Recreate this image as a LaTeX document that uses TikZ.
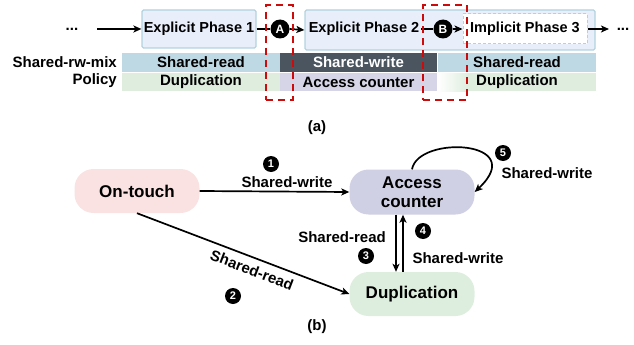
\documentclass[tikz,border=0pt]{standalone}
\usepackage{fontspec}
\setmainfont{Liberation Sans}
\usetikzlibrary{arrows.meta}
\definecolor{phasefill}{RGB}{232,239,250}
\definecolor{phaseborder}{RGB}{178,210,222}
\definecolor{srfill}{RGB}{191,217,228}
\definecolor{dupfill}{RGB}{223,237,223}
\definecolor{swfill}{RGB}{74,85,95}
\definecolor{acfill}{RGB}{213,213,231}
\definecolor{otfill}{RGB}{250,226,226}
\definecolor{acnfill}{RGB}{208,208,228}
\definecolor{dupnfill}{RGB}{222,238,222}
\definecolor{redd}{RGB}{204,12,12}
\begin{document}
\begin{tikzpicture}[x=1pt,y=-1pt,
  lbl/.style={font=\bfseries\fontsize{15}{15}\selectfont, inner sep=0pt},
  phlbl/.style={font=\bfseries\fontsize{14.5}{15}\selectfont, inner sep=0pt},
  phasebox/.style={draw=phaseborder, fill=phasefill, line width=1.2pt, rounded corners=1.5pt},
  bar/.style={minimum width=158pt, inner sep=0pt, font=\bfseries\fontsize{15}{15}\selectfont},
  num/.style={circle, fill=black, text=white, inner sep=0pt, minimum size=16pt, font=\bfseries\fontsize{11}{11}\selectfont},
  bignum/.style={circle, fill=black, text=white, inner sep=0pt, minimum size=19pt, font=\bfseries\fontsize{12}{12}\selectfont},
  state/.style={rounded corners=19pt, minimum width=125pt, minimum height=44pt, inner sep=0pt, font=\bfseries\fontsize{17}{19}\selectfont, align=center},
  arr/.style={-{Stealth[length=8pt,width=7pt,inset=2pt]}, line width=1.7pt},
  ln/.style={line width=1.7pt},
  reddash/.style={draw=redd, line width=2.2pt, dash pattern=on 7pt off 5pt, inner sep=0pt}
]
\useasboundingbox (0,0) rectangle (634,345);

% ---------- (a) ----------
\node[lbl] (d1) at (72,29) {...};
\coordinate (s0) at (97,29);
\node[phasebox, phlbl, minimum width=114pt, minimum height=38pt] (p1) at (199,29) {Explicit Phase 1};
\node[phasebox, minimum width=290pt, minimum height=40pt, inner sep=0pt] (p2box) at (450,30) {};
\node[phlbl] (p2) at (364,29) {Explicit Phase 2};
\node[draw=phaseborder, fill=white, line width=1pt, dash pattern=on 3pt off 2pt, phlbl, minimum width=124pt, minimum height=30pt] (p3) at (525,29) {Implicit Phase 3};
\node[bignum] (cA) at (280,29) {A};
\node[bignum] (cB) at (443,29) {B};
\coordinate (e0) at (609,29);
\node[lbl] (d2) at (623,29) {...};

\draw[arr] (s0) -- (p1.west);
\draw[ln] (p1.east) -- (cA.west);
\draw[arr] (cA.east) -- (p2box.west);
\draw[ln] ([xshift=2pt]p2.east) -- (cB.west);
\draw[arr] (cB.east) -- (p3.west);
\draw[arr] (p3.east) -- (e0);

% bars
\node[bar, fill=srfill, minimum height=19pt] (sr1) at (201,62.5) {Shared-read};
\node[bar, fill=dupfill, minimum height=18pt] (du1) at (201,82) {Duplication};
\node[bar, fill=swfill, text=white, minimum width=157pt, minimum height=19pt] (sw) at (358.5,62.5) {Shared-write};
\node[bar, fill=acfill, minimum width=157pt, minimum height=18pt] (ac) at (358.5,82) {Access counter};
\node[bar, fill=srfill, minimum height=19pt] (sr2) at (517,62.5) {Shared-read};
\shade[left color=white, right color=dupfill] (437,73) rectangle (468,91);
\fill[dupfill] (468,73) rectangle (596,91);
\node[bar, minimum height=18pt] (du2) at (517,82) {Duplication};

\node[lbl, anchor=east] (pl1) at (117,62) {Shared-rw-mix};
\node[lbl, anchor=east] (pl2) at (117,81) {Policy};

\node[reddash, minimum width=27pt, minimum height=95pt] (rA) at (279.5,52.5) {};
\node[reddash, minimum width=44pt, minimum height=95pt] (rB) at (445,52.5) {};

\node[lbl] (capa) at (317,128) {(a)};

% ---------- (b) ----------
\node[state, fill=otfill] (ot) at (137,191) {On-touch};
\node[state, fill=acnfill, minimum height=45pt] (acn) at (412,192) {Access\\counter};
\node[state, fill=dupnfill] (dup) at (412,294) {Duplication};

\draw[arr] (ot.east) -- (acn.west);
\node[lbl] (l1) at (287,182) {Shared-write};
\node[num] (n1) at (271,164) {1};

\draw[arr] (ot.south) -- (dup.west);
\node[lbl, rotate=-20.9] (l2) at (252,270) {Shared-read};
\node[num] (n2) at (233,296) {2};

\draw[arr] ([xshift=-16pt]acn.south) -- ([xshift=-16pt]dup.north);
\draw[arr] ([xshift=-9pt]dup.north) -- ([xshift=-9pt]acn.south);
\node[lbl, anchor=east] (l3) at (386,237) {Shared-read};
\node[num] (n3) at (366,256) {3};
\node[num] (n4) at (423,231) {4};
\node[lbl] (l4) at (458,258) {Shared-write};

\draw[arr] (acn.north) .. controls (418,135) and (530,140) .. (acn.east);
\node[num] (n5) at (503,153) {5};
\node[lbl] (l5) at (547,173) {Shared-write};

\node[lbl] (capb) at (317,327) {(b)};
\end{tikzpicture}
\end{document}
